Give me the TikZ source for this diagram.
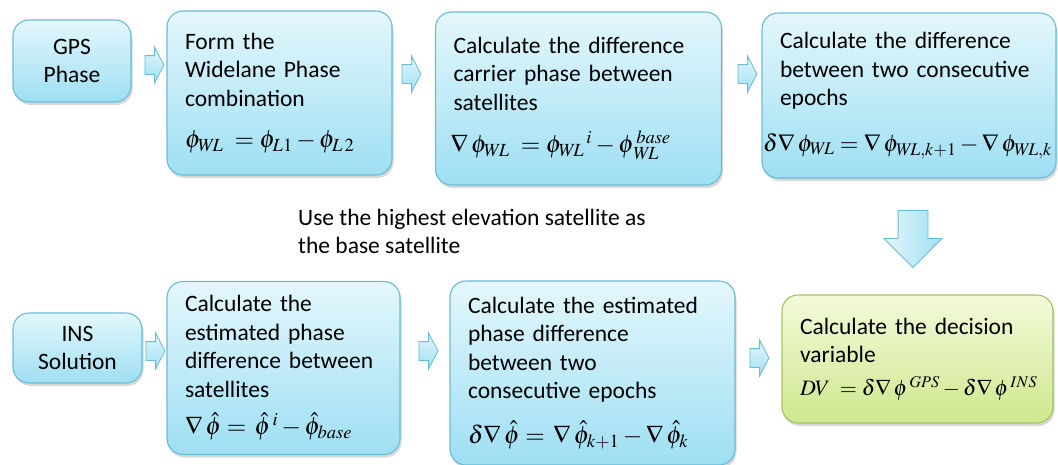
\documentclass[tikz,border=0pt]{standalone}
\usepackage{mathptmx}
\usepackage[no-math]{fontspec}
\setmainfont{Carlito}
\usepackage{tikz}
\usetikzlibrary{shapes.arrows,shadows}

\definecolor{boxline}{RGB}{104,188,214}
\definecolor{boxtop}{RGB}{228,247,252}
\definecolor{boxbot}{RGB}{158,223,243}
\definecolor{dvline}{RGB}{158,198,96}
\definecolor{dvtop}{RGB}{244,250,218}
\definecolor{dvbot}{RGB}{206,232,142}
\newcommand{\eqsize}[1][25]{\fontsize{#1}{28.5}\selectfont}

\begin{document}
\begin{tikzpicture}[x=1pt,y=-1pt]
  \tikzstyle{stage}=[draw=boxline,line width=1.1pt,rounded corners=16pt,top color=boxtop,bottom color=boxbot,
    drop shadow={shadow xshift=1.5pt,shadow yshift=-3pt,opacity=0.3},
    align=left,inner xsep=18pt,inner ysep=0pt,font=\fontsize{23.5}{28.5}\selectfont]
  \tikzstyle{flow}=[single arrow,draw=boxline,line width=0.8pt,top color=boxtop,bottom color=boxbot,
    inner xsep=0pt,inner ysep=9pt,single arrow head extend=8.5pt,single arrow tip angle=125,
    minimum height=19pt,minimum width=0pt]
  \tikzstyle{flowdown}=[single arrow,draw=boxline,line width=0.8pt,left color=boxtop,right color=boxbot,
    rotate=-90,inner xsep=0pt,inner ysep=14.5pt,single arrow head extend=14pt,single arrow tip angle=90,
    minimum height=57pt,minimum width=0pt]
  \useasboundingbox (0,0) rectangle (1058,464);

  % top row: GPS phase
  \node[stage,align=center,text width=82pt,minimum height=82pt] (gps) at (72,61) {GPS\\Phase};
  \node[stage,text width=189pt,minimum height=164pt] (form) at (279.5,93)
    {Form the\\Widelane Phase\\combination\\[13pt]
     \mbox{\eqsize$\phi_{W\!L}\;=\phi_{L1}-\phi_{L\,2}$}};
  \node[stage,text width=250pt,minimum height=173pt] (diff) at (578.5,98.5)
    {Calculate the difference\\carrier phase\ between\\satellites\\[14pt]
     \hspace*{-3pt}\mbox{\eqsize$\nabla\,\phi_{W\!L}\;=\phi_{W\!L}{}^{\,i}-\phi^{\,base}_{\,W\!L}$}};
  \node[stage,text width=258pt,minimum height=165pt] (diff2) at (909,95.5)
    {Calculate the difference\\between two consecutive\\epochs\\[17pt]
     \hspace*{-17pt}\mbox{\eqsize[24]$\delta\nabla\,\phi_{W\!L}=\nabla\,\phi_{W\!L,k+1}-\nabla\,\phi_{W\!L,k}$}};

  % bottom row: INS solution
  \node[stage,align=center,text width=93pt,minimum height=70pt] (ins) at (77.5,348) {INS\\Solution};
  \node[stage,text width=197pt,minimum height=173pt] (est) at (283.5,368)
    {Calculate the\\estimated phase\\difference between\\satellites\\[9pt]
     \mbox{\eqsize$\nabla\,\hat{\phi}=\,\hat{\phi}^{\,i}-\hat{\phi}_{base}$}};
  \node[stage,text width=249pt,minimum height=184pt] (est2) at (592.5,373)
    {Calculate the estimated\\phase difference\\between two\\consecutive epochs\\[16pt]
     \mbox{\eqsize$\delta\nabla\,\hat{\phi}=\,\nabla\,\hat{\phi}_{k+1}-\nabla\,\hat{\phi}_{k}$}};
  \node[stage,draw=dvline,top color=dvtop,bottom color=dvbot,text width=235pt,minimum height=128pt] (dv) at (917.5,359)
    {Calculate the decision\\variable\\[4pt]
     \mbox{\eqsize[22]$DV\;=\delta\nabla\,\phi^{\,GPS}-\delta\nabla\,\phi^{\,INS}$}};

  \node[anchor=north west,inner sep=0pt,align=left,font=\fontsize{23.5}{28}\selectfont] (note) at (298,209)
    {Use the highest elevation satellite as\\the base satellite};

  % block arrows between the stages
  \node[flow] (f1) at (152,65) {};
  \node[flow] (f2) at (409,74) {};
  \node[flow] (f3) at (745,74) {};
  \node[flowdown] (down) at (913,231.5) {};
  \node[flow] (f4) at (153,351) {};
  \node[flow] (f5) at (426,351) {};
  \node[flow] (f6) at (757,358) {};
\end{tikzpicture}
\end{document}
